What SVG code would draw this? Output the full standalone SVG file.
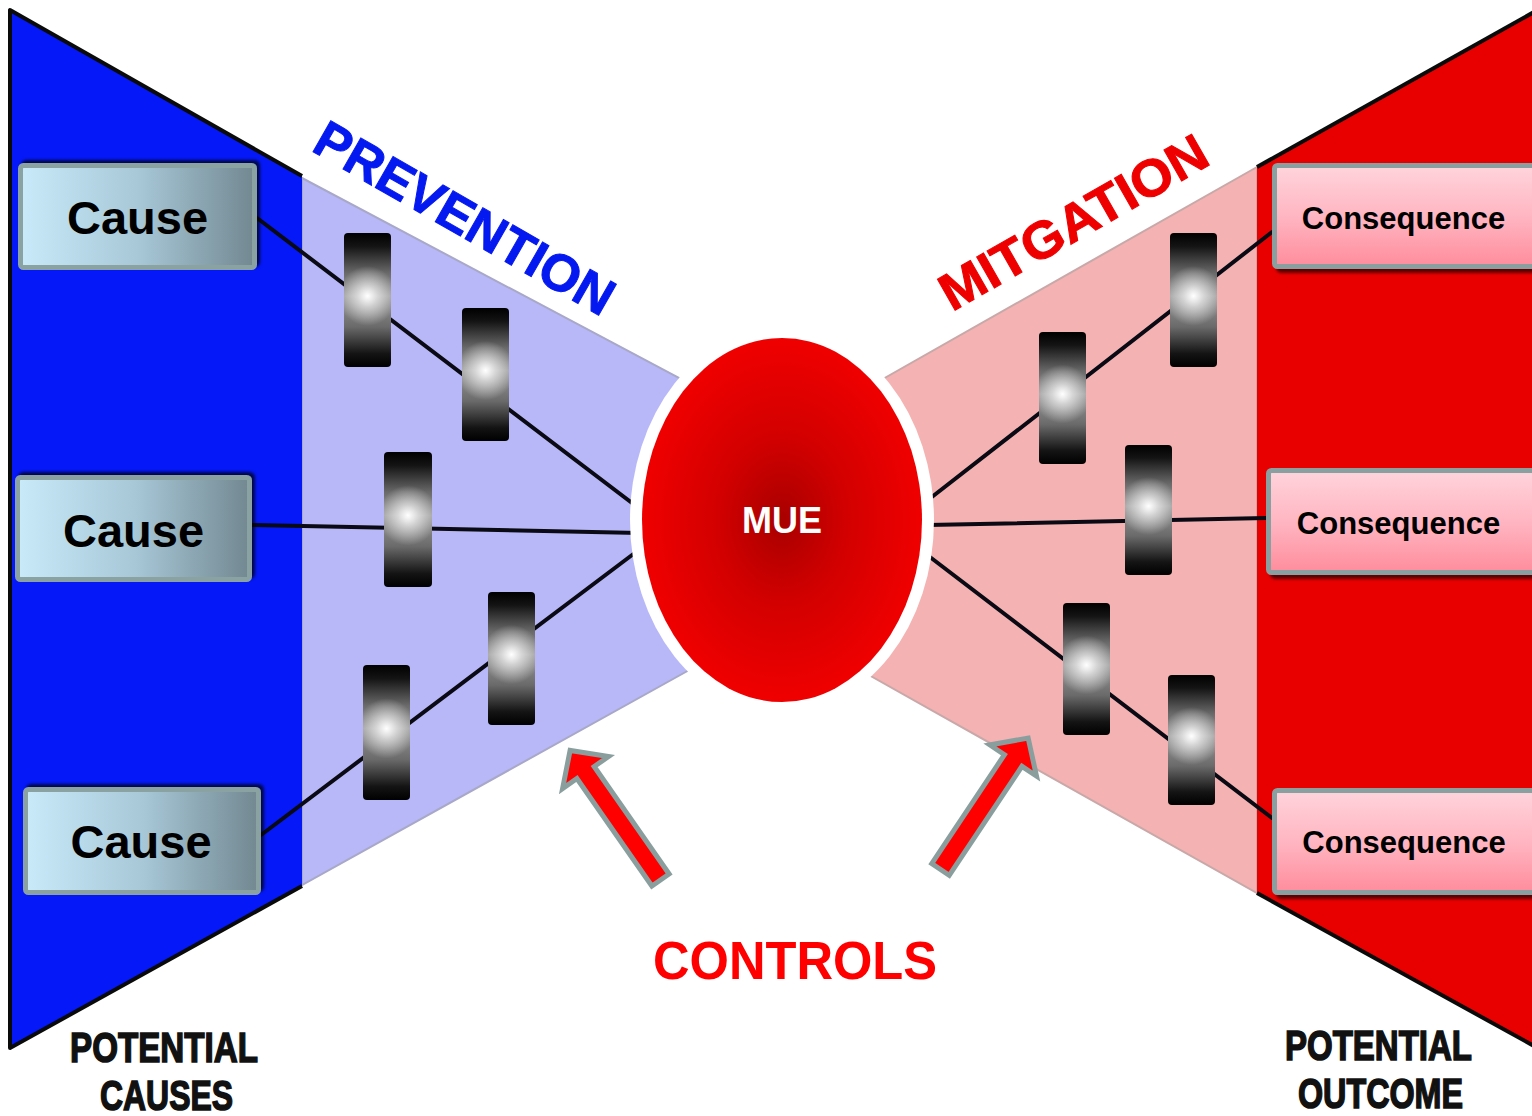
<svg xmlns="http://www.w3.org/2000/svg" width="1532" height="1116" viewBox="0 0 1532 1116">
  <style>
    .lbl { font-family: "Liberation Sans", Arial, sans-serif; font-weight: bold; }
    .cause-t { font-size: 47px; fill: #000; text-anchor: middle; }
    .cons-t { font-size: 31px; fill: #000; text-anchor: middle; }
    .pot { font-size: 43px; fill: #111; stroke: #111; stroke-width: 1.6; }
    .conn { stroke: #0a0a14; stroke-width: 4; fill: none; stroke-linecap: round; }
    .bar-base { fill: url(#gBarV); }
    .bar-glow { fill: url(#gBarGlow); }
    .cause-box { fill: url(#gCause); stroke: #8aa2a2; stroke-width: 5; }
    .cons-box { fill: url(#gCons); stroke: #8a9fa0; stroke-width: 5; }
    .arrow { fill: #ff0000; stroke: #8a9e9e; stroke-width: 5; stroke-linejoin: miter; }
  </style>
  <defs>
    <linearGradient id="gCause" x1="0" y1="0" x2="1" y2="0">
      <stop offset="0" stop-color="#c8eaf9"/>
      <stop offset="0.5" stop-color="#a8c8d8"/>
      <stop offset="1" stop-color="#728891"/>
    </linearGradient>
    <linearGradient id="gCons" x1="0" y1="0" x2="0" y2="1">
      <stop offset="0" stop-color="#ffd4dc"/>
      <stop offset="0.5" stop-color="#ffb6c2"/>
      <stop offset="1" stop-color="#ff8c9c"/>
    </linearGradient>
    <linearGradient id="gBarV" x1="0" y1="0" x2="0" y2="1">
      <stop offset="0" stop-color="#000000"/>
      <stop offset="0.1" stop-color="#141414"/>
      <stop offset="0.3" stop-color="#6a6a6a"/>
      <stop offset="0.47" stop-color="#9a9a9a"/>
      <stop offset="0.7" stop-color="#6a6a6a"/>
      <stop offset="0.9" stop-color="#141414"/>
      <stop offset="1" stop-color="#000000"/>
    </linearGradient>
    <radialGradient id="gBarGlow" cx="0.5" cy="0.47" r="0.62" gradientTransform="translate(0.5,0.47) scale(1,0.36) translate(-0.5,-0.47)">
      <stop offset="0" stop-color="#ffffff" stop-opacity="1"/>
      <stop offset="0.35" stop-color="#ffffff" stop-opacity="0.6"/>
      <stop offset="1" stop-color="#ffffff" stop-opacity="0"/>
    </radialGradient>
    <radialGradient id="gMue" cx="0.5" cy="0.5" r="0.5">
      <stop offset="0" stop-color="#a80000"/>
      <stop offset="0.45" stop-color="#d20000"/>
      <stop offset="1" stop-color="#f00000"/>
    </radialGradient>
    <filter id="shUp" x="-10%" y="-20%" width="120%" height="140%">
      <feDropShadow dx="3" dy="-3" stdDeviation="1.5" flood-color="#000" flood-opacity="0.7"/>
    </filter>
    <filter id="shDown" x="-10%" y="-20%" width="120%" height="140%">
      <feDropShadow dx="4" dy="4" stdDeviation="1.5" flood-color="#000" flood-opacity="0.6"/>
    </filter>
  </defs>

  <rect width="1532" height="1116" fill="#ffffff"/>

  <!-- Bow-tie background -->
  <g id="bowtie">
    <polygon points="302,178 700,389 700,664 302,885" fill="#b8b8f8" stroke="#a8a8c8" stroke-width="2"/>
    <polygon points="10,10 302,176 302,886 10,1048" fill="#0418f8"/>
    <polyline points="302,176 10,10 10,1048 302,886" fill="none" stroke="#0a0a0a" stroke-width="4" stroke-linejoin="round"/>
    <polygon points="1257,167 860,392 860,670 1257,893" fill="#f4b2b2" stroke="#c8a8a8" stroke-width="2"/>
    <polygon points="1257,167 1534,12 1534,1046 1257,893" fill="#e80000"/>
    <line x1="1257" y1="167" x2="1534" y2="12" stroke="#0a0a0a" stroke-width="4"/>
    <line x1="1257" y1="893" x2="1534" y2="1046" stroke="#0a0a0a" stroke-width="4"/>
  </g>

  <!-- Connectors -->
  <g id="connectors">
    <line class="conn" x1="257" y1="218" x2="640" y2="509"/>
    <line class="conn" x1="252" y1="525" x2="640" y2="533"/>
    <line class="conn" x1="261" y1="835" x2="640" y2="549"/>
    <line class="conn" x1="928" y1="500" x2="1272" y2="232"/>
    <line class="conn" x1="928" y1="525" x2="1266" y2="518"/>
    <line class="conn" x1="926" y1="554" x2="1272" y2="818"/>
  </g>

  <!-- Central event -->
  <g id="mue">
    <ellipse cx="782" cy="520" rx="152" ry="193" fill="#ffffff"/>
    <ellipse cx="782" cy="520" rx="140" ry="182" fill="url(#gMue)"/>
    <text class="lbl" x="782" y="533" font-size="36" fill="#ffffff" text-anchor="middle">MUE</text>
  </g>

  <!-- Barriers -->
  <g id="barriers-prevention">
    <g id="bp1"><rect class="bar-base" x="344" y="233" width="47" height="134" rx="4"/><rect class="bar-glow" x="344" y="233" width="47" height="134" rx="4"/></g>
    <g id="bp2"><rect class="bar-base" x="462" y="308" width="47" height="133" rx="4"/><rect class="bar-glow" x="462" y="308" width="47" height="133" rx="4"/></g>
    <g id="bp3"><rect class="bar-base" x="384" y="452" width="48" height="135" rx="4"/><rect class="bar-glow" x="384" y="452" width="48" height="135" rx="4"/></g>
    <g id="bp4"><rect class="bar-base" x="488" y="592" width="47" height="133" rx="4"/><rect class="bar-glow" x="488" y="592" width="47" height="133" rx="4"/></g>
    <g id="bp5"><rect class="bar-base" x="363" y="665" width="47" height="135" rx="4"/><rect class="bar-glow" x="363" y="665" width="47" height="135" rx="4"/></g>
  </g>
  <g id="barriers-mitigation">
    <g id="bm1"><rect class="bar-base" x="1170" y="233" width="47" height="134" rx="4"/><rect class="bar-glow" x="1170" y="233" width="47" height="134" rx="4"/></g>
    <g id="bm2"><rect class="bar-base" x="1039" y="332" width="47" height="132" rx="4"/><rect class="bar-glow" x="1039" y="332" width="47" height="132" rx="4"/></g>
    <g id="bm3"><rect class="bar-base" x="1125" y="445" width="47" height="130" rx="4"/><rect class="bar-glow" x="1125" y="445" width="47" height="130" rx="4"/></g>
    <g id="bm4"><rect class="bar-base" x="1063" y="603" width="47" height="132" rx="4"/><rect class="bar-glow" x="1063" y="603" width="47" height="132" rx="4"/></g>
    <g id="bm5"><rect class="bar-base" x="1168" y="675" width="47" height="130" rx="4"/><rect class="bar-glow" x="1168" y="675" width="47" height="130" rx="4"/></g>
  </g>

  <!-- Causes -->
  <g id="cause1">
    <rect class="cause-box" x="20.5" y="165.5" width="234" height="102" rx="3" filter="url(#shUp)"/>
    <text class="lbl cause-t" x="137.5" y="234">Cause</text>
  </g>
  <g id="cause2">
    <rect class="cause-box" x="17.5" y="477.5" width="232" height="102" rx="3" filter="url(#shUp)"/>
    <text class="lbl cause-t" x="133.5" y="547">Cause</text>
  </g>
  <g id="cause3">
    <rect class="cause-box" x="25.5" y="789.5" width="233" height="103" rx="3" filter="url(#shUp)"/>
    <text class="lbl cause-t" x="141" y="858">Cause</text>
  </g>

  <!-- Consequences -->
  <g id="consequence1">
    <rect class="cons-box" x="1274.5" y="165.5" width="270" height="101" rx="3" filter="url(#shDown)"/>
    <text class="lbl cons-t" x="1403.5" y="229">Consequence</text>
  </g>
  <g id="consequence2">
    <rect class="cons-box" x="1268.5" y="470.5" width="276" height="102" rx="3" filter="url(#shDown)"/>
    <text class="lbl cons-t" x="1398.5" y="534">Consequence</text>
  </g>
  <g id="consequence3">
    <rect class="cons-box" x="1274.5" y="790.5" width="270" height="102" rx="3" filter="url(#shDown)"/>
    <text class="lbl cons-t" x="1404" y="853">Consequence</text>
  </g>

  <!-- Side labels -->
  <g id="prevention-label">
    <text class="lbl" transform="translate(310,150) rotate(29.8)" font-size="52" fill="#0418f0" stroke="#0418f0" stroke-width="1" textLength="336" lengthAdjust="spacingAndGlyphs">PREVENTION</text>
  </g>
  <g id="mitigation-label">
    <text class="lbl" transform="translate(952,312) rotate(-29.7)" font-size="52" fill="#ee0000" stroke="#ee0000" stroke-width="1" textLength="300" lengthAdjust="spacingAndGlyphs">MITGATION</text>
  </g>

  <g id="potential-causes">
    <text class="lbl pot" x="70" y="1062" textLength="188" lengthAdjust="spacingAndGlyphs">POTENTIAL</text>
    <text class="lbl pot" x="100" y="1110" textLength="133" lengthAdjust="spacingAndGlyphs">CAUSES</text>
  </g>
  <g id="potential-outcome">
    <text class="lbl pot" x="1285" y="1060" textLength="187" lengthAdjust="spacingAndGlyphs">POTENTIAL</text>
    <text class="lbl pot" x="1298" y="1108" textLength="165" lengthAdjust="spacingAndGlyphs">OUTCOME</text>
  </g>

  <!-- Controls -->
  <g id="controls">
    <polygon class="arrow" transform="translate(660.5,880) rotate(-124.9)" points="0,-10.5 131,-10.5 131,-28 158,0 131,28 131,10.5 0,10.5"/>
    <polygon class="arrow" transform="translate(940.5,869.5) rotate(-56.3)" points="0,-10.5 131,-10.5 131,-28 158,0 131,28 131,10.5 0,10.5"/>
    <text class="lbl" x="653" y="979" font-size="54" fill="#ff0000" textLength="284" lengthAdjust="spacingAndGlyphs">CONTROLS</text>
  </g>
</svg>
